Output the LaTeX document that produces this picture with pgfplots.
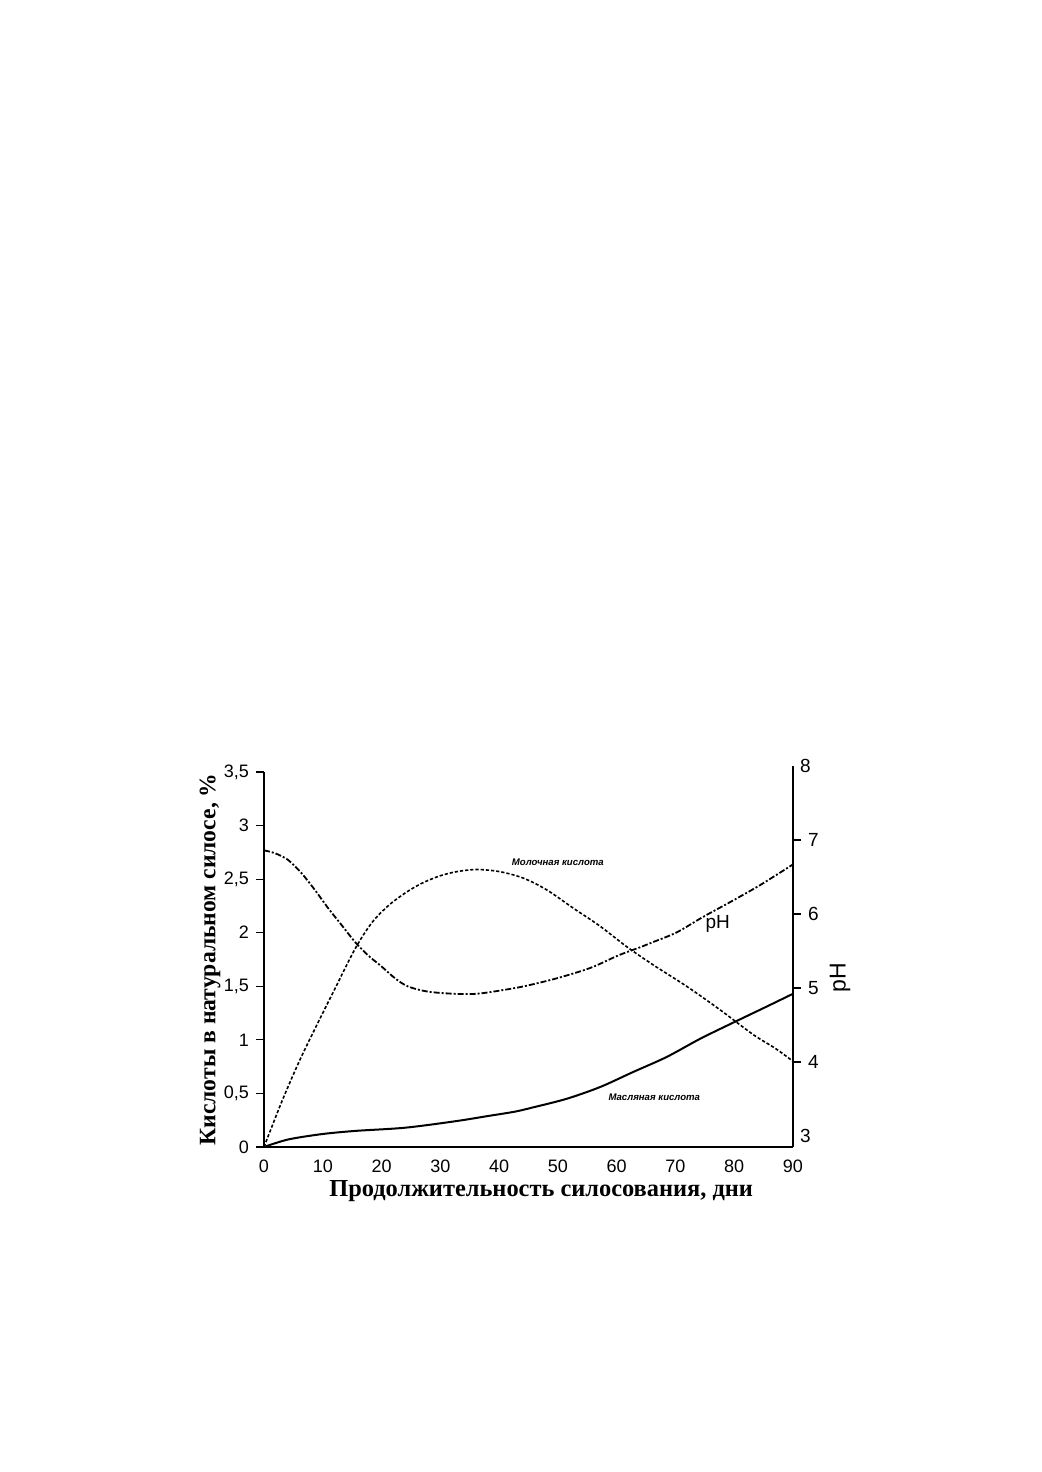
\documentclass[border=0pt]{standalone}
\usepackage{pgfplots}
\pgfplotsset{compat=1.18}
\usepackage{fontspec}
\setmainfont{Liberation Sans}
\newfontfamily\timesf{Liberation Serif}
\begin{document}
\begin{tikzpicture}
\path[use as bounding box, fill=white] (0,0) rectangle (520.5pt,736pt);
\begin{axis}[
  at={(132pt,162.5pt)}, anchor=south west,
  scale only axis, width=264.5pt, height=187.5pt,
  xmin=0, xmax=90, ymin=0, ymax=3.5,
  axis y line*=left, axis x line*=bottom,
  axis line style={-, line width=0.9pt},
  xtick={0,10,...,90},
  ytick={0,0.5,1,1.5,2,2.5,3,3.5},
  yticklabels={0,{0,5},1,{1,5},2,{2,5},3,{3,5}},
  x tick style={draw=none},
  y tick style={line width=0.6pt, black},
  tick align=outside, major tick length=4pt,
  tick label style={font=\fontsize{9}{10}\selectfont},
  xticklabel style={yshift=-1.5pt, inner sep=1pt},
  /pgf/number format/assume math mode=true,
  xlabel={\timesf\bfseries Продолжительность силосования, дни},
  ylabel={\timesf\bfseries Кислоты в натуральном силосе, \%},
  xlabel style={at={(axis description cs:0.524,-0.117)}, anchor=center, inner sep=0pt, font=\fontsize{12.2}{13}\selectfont},
  ylabel style={at={(axis description cs:-0.102,0.5)}, anchor=center, rotate=0, font=\fontsize{11.8}{13}\selectfont},
  clip=false,
]
% Lactic acid
\addplot[black, line width=0.8pt, dash pattern=on 1.6pt off 1pt, smooth] coordinates {
(0,0) (3,0.42) (6,0.8) (9,1.14) (12,1.47) (15.5,1.85) (18.3,2.09) (21.1,2.25) (24,2.37) (26.8,2.46) (29.9,2.53) (32.8,2.57) (36.2,2.59) (40.1,2.57) (44.1,2.51) (48.1,2.40) (52.6,2.23) (57.2,2.06) (61.7,1.87) (66.2,1.70) (71.9,1.50) (77.6,1.28) (83.2,1.05) (87,0.92) (90,0.80)
};
% Butyric acid
\addplot[black, line width=1pt, smooth] coordinates {
(0,0) (4.1,0.07) (9.8,0.12) (15.5,0.15) (24,0.18) (32.5,0.24) (38.2,0.29) (42.7,0.33) (45.8,0.37) (51.5,0.45) (57.2,0.56) (62.8,0.70) (68.5,0.84) (74.2,1.01) (79.8,1.16) (85.5,1.31) (90,1.43)
};
\node[font=\fontsize{4.8}{5}\selectfont\bfseries\itshape] at (axis cs:50,2.66) {Молочная кислота};
\node[font=\fontsize{4.8}{5}\selectfont\bfseries\itshape] at (axis cs:66.4,0.46) {Масляная кислота};
\end{axis}
\begin{axis}[
  at={(132pt,162.5pt)}, anchor=south west,
  scale only axis, width=264.5pt, height=190.5pt,
  xmin=0, xmax=90, ymin=2.85, ymax=8,
  axis y line*=right, axis x line=none,
  axis line style={-, line width=0.9pt},
  ytick={4,5,6,7},
  extra y ticks={3,8},
  extra y tick style={major tick length=0pt},
  y tick style={line width=0.6pt, black},
  tick align=outside, major tick length=4pt,
  tick label style={font=\fontsize{9.5}{10}\selectfont},
  /pgf/number format/assume math mode=true,
  ylabel={pH},
  ylabel style={at={(axis description cs:1.089,0.445)}, anchor=center, rotate=0, font=\fontsize{11.5}{12}\selectfont},
  clip=false,
]
\addplot[black, line width=0.9pt, dash pattern=on 3pt off 1pt on 1pt off 1pt, smooth] coordinates {
(0,6.86) (1.9,6.82) (4.1,6.73) (6.4,6.55) (8.7,6.32) (10.9,6.08) (13.2,5.85) (15.5,5.62) (17.7,5.44) (20,5.29) (22.3,5.13) (24.5,5.02) (27.9,4.95) (32.5,4.92) (36,4.92) (39,4.95) (44.1,5.02) (49.8,5.13) (55.5,5.27) (60.3,5.44) (64,5.55) (66.2,5.62) (70.2,5.75) (74.7,5.96) (79.3,6.16) (84.4,6.39) (90,6.67)
};
\node[font=\fontsize{9.5}{10}\selectfont] at (axis cs:77.2,5.86) {pH};
\end{axis}
\end{tikzpicture}
\end{document}
